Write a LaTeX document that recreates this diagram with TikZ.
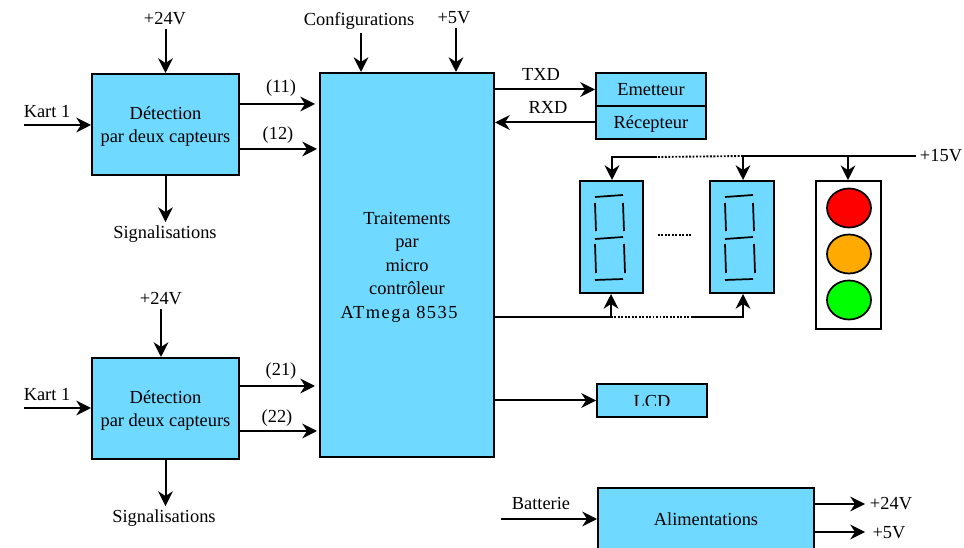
\documentclass[tikz,border=0pt]{standalone}
\usepackage{fontspec}
\setmainfont{Liberation Serif}
\usetikzlibrary{arrows.meta,shapes.geometric}
\definecolor{bleu}{RGB}{112,217,255}
\definecolor{ambre}{RGB}{255,170,0}
% First line of a block a little lower
\newcommand{\bas}{\rule{0pt}{12.5pt}}
\tikzset{
    %Define standard arrow tip
    >={Stealth[length=11pt,width=11pt,inset=3.5pt]},
    %Define style for boxes
    bloc/.style={
           rectangle,
           draw=black,
           line width=1.5pt,
           fill=bleu,
           inner sep=0pt,
           align=center,
           font=\fontsize{13.8pt}{17.6pt}\selectfont},
    %Define style for free labels
    etiq/.style={
           inner sep=2.5pt,
           font=\fontsize{13.8pt}{16pt}\selectfont},
    % Define arrow style
    pil/.style={
           ->,
           line width=1.5pt},
    fil/.style={
           line width=1.5pt},
    pointille/.style={
           line width=1.4pt,
           dash pattern=on 1.4pt off 1.2pt},
    % Define lamp style
    feu/.style={
           ellipse,
           draw=black,
           line width=1.3pt,
           minimum width=44*0.75pt,
           minimum height=39*0.75pt,
           inner sep=0pt}
}
\begin{document}
\begin{tikzpicture}[x=0.75pt,y=-0.75pt]
  \useasboundingbox (0,0) rectangle (964,548);
  \clip (0,0) rectangle (964,548);
  % Blocks
  \node[bloc,minimum width=147*0.75pt,minimum height=101*0.75pt] (deta) at (165.5,124.5) {\bas Détection\\par deux capteurs};
  \node[bloc,minimum width=147*0.75pt,minimum height=101*0.75pt] (detb) at (165.5,408.5) {\bas Détection\\par deux capteurs};
  \node[bloc,minimum width=174*0.75pt,minimum height=384*0.75pt] (mcu) at (407,265) {\bas Traitements\\par\\micro\\contrôleur\\{\addfontfeature{LetterSpace=8}ATmega 8535}\hspace*{12pt}};
  \node[bloc,minimum width=110*0.75pt,minimum height=33*0.75pt] (emet) at (651,89.5) {Emetteur};
  \node[bloc,minimum width=110*0.75pt,minimum height=33*0.75pt] (recp) at (651,122.5) {\bas Récepteur};
  \node[bloc,minimum width=63*0.75pt,minimum height=112*0.75pt] (dispa) at (611.5,237) {};
  \node[bloc,minimum width=64*0.75pt,minimum height=112*0.75pt] (dispb) at (742,237) {};
  \node[bloc,minimum width=110*0.75pt,minimum height=33*0.75pt] (lcd) at (652,400.5) {};
  \node[bloc,minimum width=216*0.75pt,minimum height=62*0.75pt] (alim) at (706,519) {Alimentations};
  \begin{scope}
    \clip (597,384) rectangle (707,406);
    \node[etiq,anchor=base] (lcdtxt) at (652,408) {LCD};
  \end{scope}
  % Traffic light
  \node[draw=black,line width=1.3pt,fill=white,minimum width=65*0.75pt,minimum height=148*0.75pt] (feux) at (848.5,255) {};
  \node[feu,fill=red] (rouge) at (849,208) {};
  \node[feu,fill=ambre] (orange) at (849,254) {};
  \node[feu,fill=green] (vert) at (849,300) {};
  % Seven segments
  \foreach \dx in {0,130} {
    \draw[line width=1.3pt,xshift=\dx*0.75pt]
      (595,197) -- (623,195)
      (595,203) -- (596,231)
      (623,203) -- (624,231)
      (595,239) -- (623,237)
      (595,244) -- (596,273)
      (624,244) -- (625,273)
      (595,280) -- (623,279);
  }
  \coordinate (pointsa) at (658,235);
  \coordinate (pointsb) at (692,235);
  \draw[pointille] (pointsa) -- (pointsb);
  % Labels
  \node[etiq] (vccaa) at (165,19) {+24V};
  \node[etiq] (vccab) at (161,299) {+24V};
  \node[etiq] (karta) at (47,112) {Kart 1};
  \node[etiq] (kartb) at (47,395) {Kart 1};
  \node[etiq] (siga) at (165,234) {Signalisations};
  \node[etiq] (sigb) at (164,518) {Signalisations};
  \node[etiq] (conf) at (359,21) {Configurations};
  \node[etiq] (vccb) at (454,18) {+5V};
  \node[etiq] (txd) at (541,74) {TXD};
  \node[etiq] (rxd) at (548,107) {RXD};
  \node[etiq] (vccc) at (941,156) {+15V};
  \node[etiq] (batt) at (541,503) {Batterie};
  \node[etiq] (sortb) at (891,504) {+24V};
  \node[etiq] (sortc) at (889,533) {+5V};
  \node[etiq] (la) at (281,88) {(11)};
  \node[etiq] (lb) at (278,135) {(12)};
  \node[etiq] (lc) at (281,371) {(21)};
  \node[etiq] (ld) at (277,418) {(22)};
  % Free ends
  \coordinate (ka) at (24,125);
  \coordinate (kb) at (24,408);
  \coordinate (ina) at (315,104);
  \coordinate (inb) at (317,149);
  \coordinate (inc) at (315,386);
  \coordinate (ind) at (317,431);
  \coordinate (ba) at (501,519);
  \coordinate (lighta) at (612,157);
  \coordinate (lightb) at (657,157);
  \coordinate (lightc) at (743,156);
  \coordinate (lightd) at (848,156);
  \coordinate (cmda) at (611,317);
  \coordinate (cmdb) at (693,317);
  \coordinate (cmdc) at (743,317);
  \coordinate (outa) at (865,504);
  \coordinate (outb) at (865,532);
  % Connectors
  \draw[pil] (ka) -- (deta.west |- ka);
  \draw[pil] (kb) -- (detb.west |- kb);
  \draw[pil] (vccaa.south -| deta.north) -- (deta.north);
  \draw[pil] (vccab.south) -- (detb.north -| vccab.south);
  \draw[pil] (deta.south) -- (siga.north -| deta.south);
  \draw[pil] (detb.south) -- (sigb.north -| detb.south);
  \draw[pil] (deta.east |- ina) -- (ina);
  \draw[pil] (deta.east |- inb) -- (inb);
  \draw[pil] (detb.east |- inc) -- (inc);
  \draw[pil] (detb.east |- ind) -- (ind);
  \draw[pil] (conf.south -| 361,0) -- (mcu.north -| 361,0);
  \draw[pil] (vccb.south -| 456,0) -- (mcu.north -| 456,0);
  \draw[pil] (mcu.east |- emet.west) -- (emet.west);
  \draw[pil] (recp.west) -- (mcu.east |- recp.west);
  \draw[pil] (mcu.east |- lcd.west) -- (lcd.west);
  \draw[pil] (ba) -- (alim.west |- ba);
  \draw[pil] (alim.east |- outa) -- (outa);
  \draw[pil] (alim.east |- outb) -- (outb);
  % Power of the displays
  \draw[fil] (vccc.west) -- (lightc);
  \draw[pil] (lightd) -- (feux.north -| lightd);
  \draw[pil] (lightc) -- (dispb.north -| lightc);
  \draw[pointille] (lightc) -- (lightb);
  \draw[pil] (lightb) -- (lighta) -- (dispa.north -| lighta);
  % Commands of the displays
  \draw[pil] (mcu.east |- cmda) -- (cmda) -- (dispa.south -| cmda);
  \draw[pointille] (cmda) -- (cmdb);
  \draw[pil] (cmdb) -- (cmdc) -- (dispb.south -| cmdc);
\end{tikzpicture}
\end{document}
